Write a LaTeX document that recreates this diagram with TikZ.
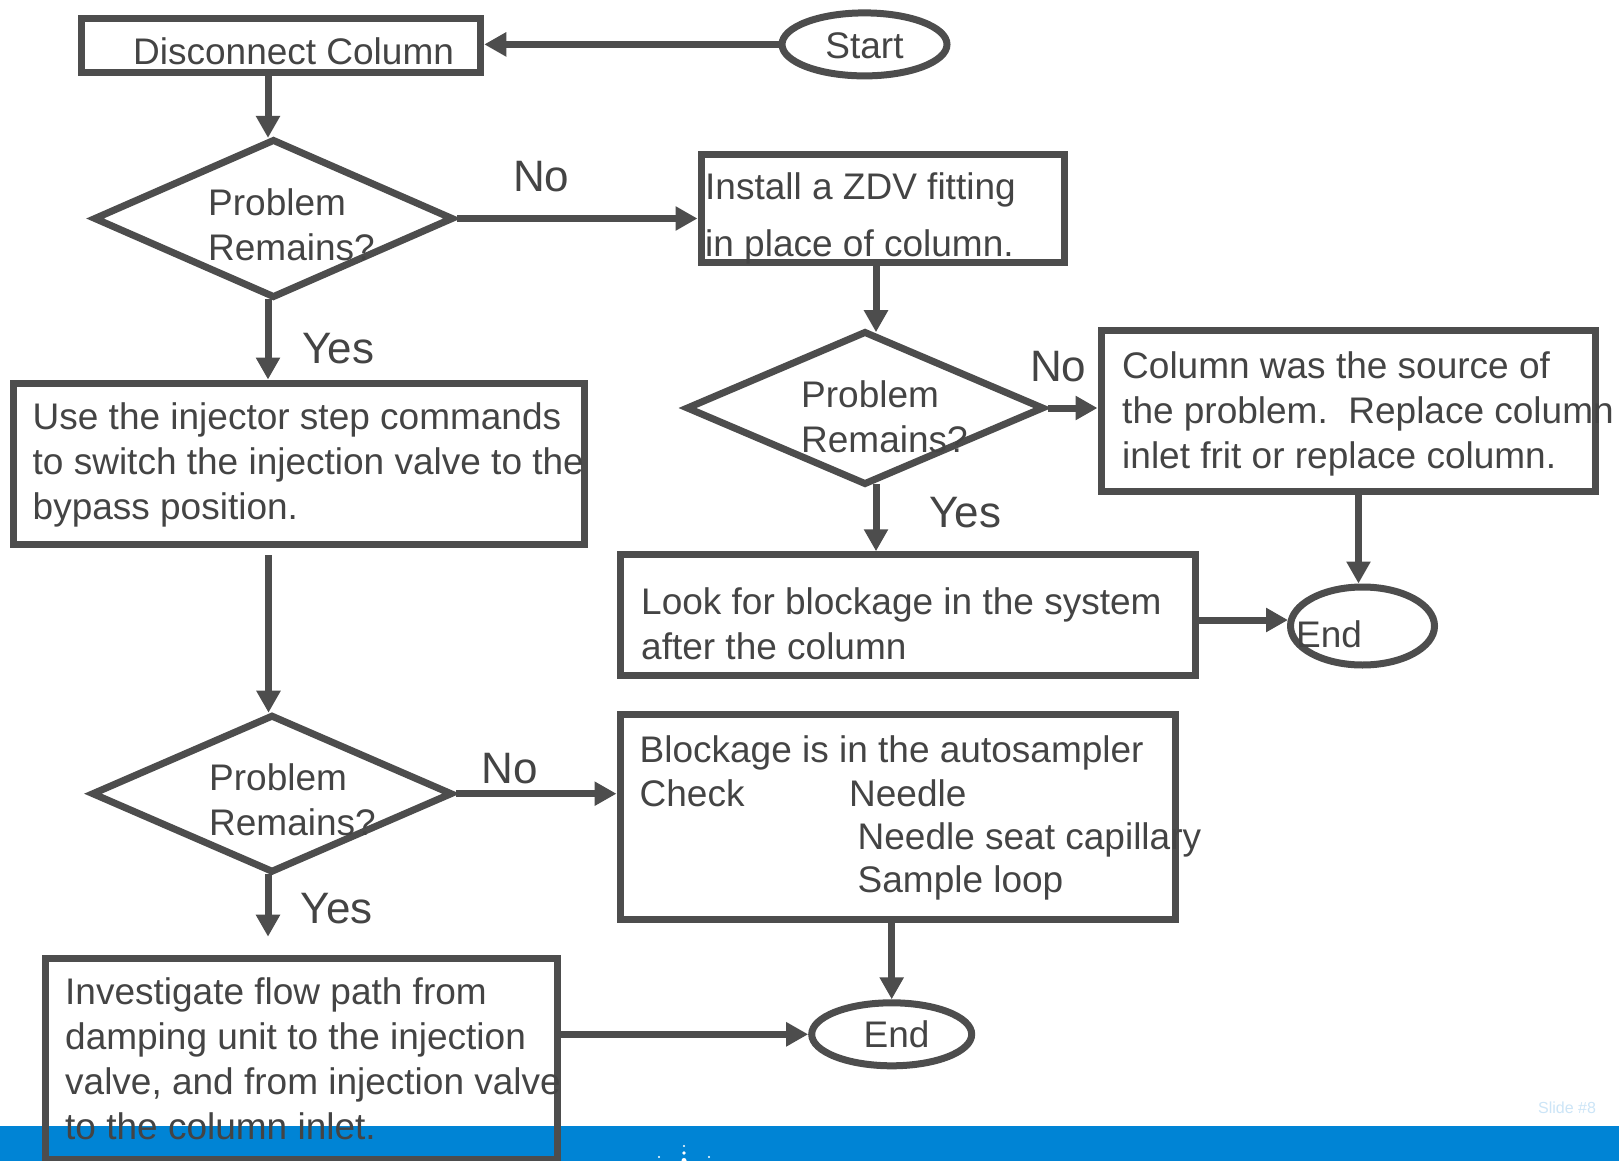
\documentclass[tikz,border=0pt]{standalone}
\usepackage{fontspec}
\setmainfont{Liberation Sans}
\usetikzlibrary{arrows.meta,shapes.geometric}
\definecolor{lg}{RGB}{77,77,77}
\definecolor{tg}{RGB}{68,68,68}
\definecolor{agblue}{RGB}{0,132,213}
\definecolor{slidec}{RGB}{204,229,247}
\frenchspacing
\begin{document}
\begin{tikzpicture}[x=1pt,y=-1pt,
  box/.style={draw=lg, line width=7pt, rectangle, inner sep=0pt},
  dia/.style={draw=lg, line width=7pt, diamond, inner sep=0pt},
  oval/.style={draw=lg, line width=7pt, ellipse, inner sep=0pt},
  arr/.style={draw=lg, line width=7pt, -{Triangle[length=22pt,width=23pt]}},
  txt/.style={anchor=base west, inner sep=0pt, text=tg, font=\fontsize{37pt}{45pt}\selectfont},
  lbl/.style={anchor=base west, inner sep=0pt, text=tg, font=\fontsize{44pt}{52pt}\selectfont}]
\useasboundingbox (0,0) rectangle (1619,1161);
\fill[white] (0,0) rectangle (1619,1161);
% footer bar
\fill[agblue] (0,1126) rectangle (1619,1161);
\fill[white] (684,1146) circle (1.2pt);
\fill[white] (684,1153) circle (1.8pt);
\fill[white] (659,1157) circle (1.2pt);
\fill[white] (709,1157) circle (1.2pt);
\fill[white] (684,1160.5) circle (2.5pt);
\node[anchor=base west, inner sep=0pt, text=slidec, font=\fontsize{16pt}{18pt}\selectfont] (slide) at (1538,1113) {Slide \#8};

% shapes
\node[oval, minimum width=165pt, minimum height=63pt] (start) at (864.5,44.4) {};
\node[box, minimum width=399.5pt, minimum height=54pt] (dc) at (281,46) {};
\node[dia, minimum width=360pt, minimum height=159pt] (d1) at (273.5,218.5) {};
\node[box, minimum width=363pt, minimum height=107pt] (inst) at (882.5,208.5) {};
\node[dia, minimum width=358pt, minimum height=154pt] (d2) at (865,408) {};
\node[box, minimum width=494pt, minimum height=161pt] (col) at (1348,410.5) {};
\node[box, minimum width=575.5pt, minimum height=120.5pt] (look) at (908,615) {};
\node[oval, minimum width=144pt, minimum height=78pt] (end1) at (1362.5,626) {};
\node[box, minimum width=571.6pt, minimum height=161.5pt] (use) at (299,463.8) {};
\node[dia, minimum width=361pt, minimum height=158pt] (d3) at (272,793.7) {};
\node[box, minimum width=555pt, minimum height=205.5pt] (blk) at (897.5,817) {};
\node[box, minimum width=512pt, minimum height=200.7pt] (inv) at (301.5,1059) {};
\node[oval, minimum width=160pt, minimum height=63pt] (end2) at (891.7,1034.3) {};
\coordinate (d3end) at (268,936.7);

% texts
\node[txt, anchor=base] (tstart) at (864.5,58.5) {Start};
\node[txt] (tdc) at (133,65) {Disconnect Column};
\node[txt] (td1a) at (208,215) {Problem};
\node[txt] (td1b) at (208,260) {Remains?};
\node[txt] (tin1) at (705,200) {Install a ZDV fitting};
\node[txt] (tin2) at (705,256) {in place of column.};
\node[txt] (td2a) at (801,407) {Problem};
\node[txt] (td2b) at (801,452) {Remains?};
\node[txt] (tc1) at (1122,378) {Column was the source of};
\node[txt] (tc2) at (1122,423) {the problem.\ \ Replace column};
\node[txt] (tc3) at (1122,468) {inlet frit or replace column.};
\node[txt] (tl1) at (641,614) {Look for blockage in the system};
\node[txt] (tl2) at (641,659) {after the column};
\node[txt] (te1) at (1296,647) {End};
\node[txt] (tu1) at (32.5,429) {Use the injector step commands};
\node[txt] (tu2) at (32.5,474) {to switch the injection valve to the};
\node[txt] (tu3) at (32.5,519) {bypass position.};
\node[txt] (td3a) at (209,790) {Problem};
\node[txt] (td3b) at (209,835) {Remains?};
\node[txt] (tb1) at (639.5,762) {Blockage is in the autosampler};
\node[txt] (tb2) at (639.5,806) {Check};
\node[txt] (tb3) at (849,806) {Needle};
\node[txt] (tb4) at (857.5,849) {Needle seat capillary};
\node[txt] (tb5) at (857.5,892) {Sample loop};
\node[txt] (ti1) at (65,1004) {Investigate flow path from};
\node[txt] (ti2) at (65,1049) {damping unit to the injection};
\node[txt] (ti3) at (65,1094) {valve, and from injection valve};
\node[txt] (ti4) at (65,1139) {to the column inlet.};
\node[txt, anchor=base] (te2) at (896.5,1047) {End};

% labels
\node[lbl] (no1) at (513,191.7) {No};
\node[lbl] (yes1) at (302,363) {Yes};
\node[lbl] (no2) at (1030,381.7) {No};
\node[lbl] (yes2) at (929,527) {Yes};
\node[lbl] (no3) at (481.6,783.3) {No};
\node[lbl] (yes3) at (300.5,923.3) {Yes};

% connectors
\draw[arr] (start.west) -- (start.west -| dc.east);
\draw[arr] ([xshift=-5.5pt]d1.north |- dc.south) -- ([xshift=-5.5pt,yshift=-2.4pt]d1.north);
\draw[arr] (d1.east) -- (d1.east -| inst.west);
\draw[arr] ([xshift=11pt]d2.north |- inst.south) -- ([xshift=11pt,yshift=-4.7pt]d2.north);
\draw[arr] (d2.east) -- (d2.east -| col.west);
\draw[arr] ([xshift=11pt,yshift=4.7pt]d2.south) -- ([xshift=11pt]d2.south |- look.north);
\draw[arr] ([yshift=6pt]look.east |- end1.west) -- ([yshift=6pt,xshift=1pt]end1.west);
\draw[arr] ([xshift=-4pt]end1.north |- col.south) -- ([xshift=-4pt]end1.north);
\draw[arr] ([xshift=-5.5pt,yshift=2.4pt]d1.south) -- ([xshift=-5.5pt]d1.south |- use.north);
\draw[arr] ([xshift=-3.5pt,yshift=-7pt]d3.north |- use.south) -- ([xshift=-3.5pt,yshift=-1.5pt]d3.north);
\draw[arr] (d3.east) -- (d3.east -| blk.west);
\draw[arr] ([xshift=-4pt,yshift=1.8pt]d3.south) -- ([xshift=-4pt]d3.south |- d3end);
\draw[arr] (inv.east |- end2.west) -- (end2.west);
\draw[arr] (end2.north |- blk.south) -- (end2.north);
\end{tikzpicture}
\end{document}
